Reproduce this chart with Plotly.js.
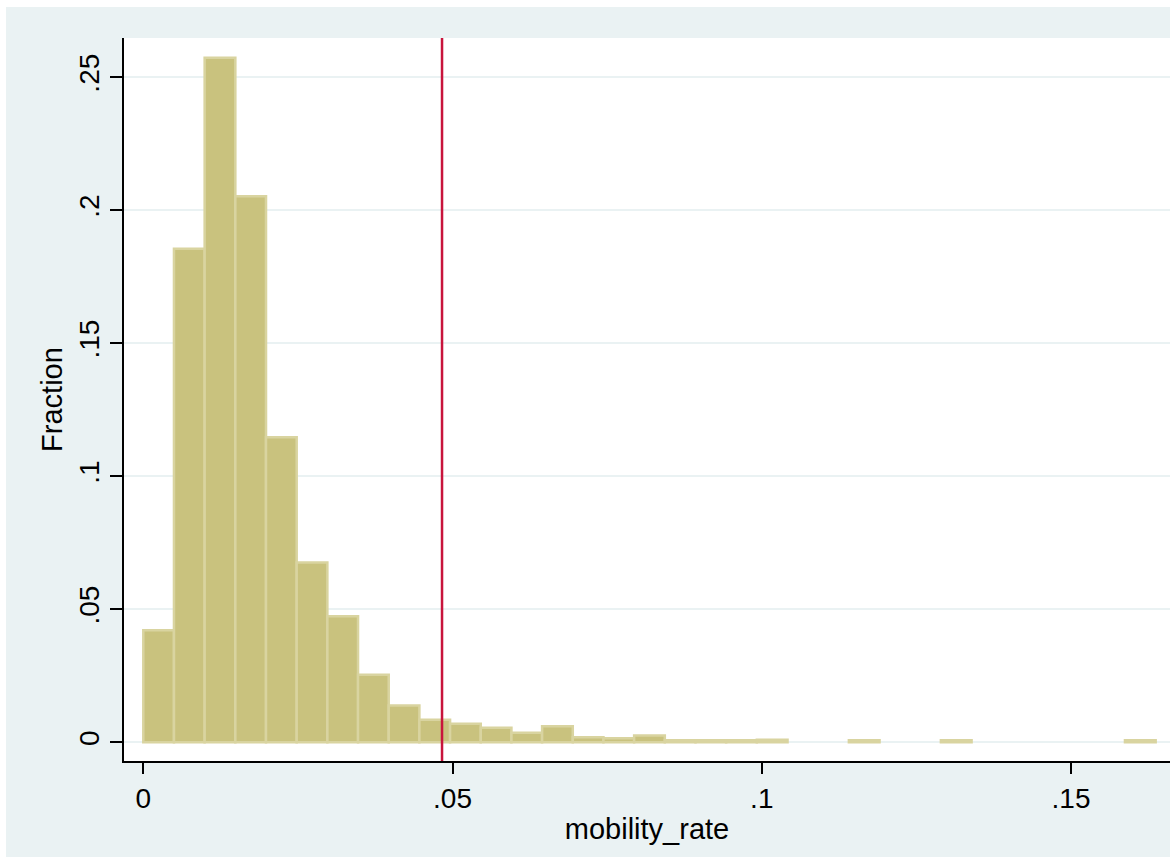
<!DOCTYPE html>
<html>
<head>
<meta charset="utf-8">
<script src="https://cdn.plot.ly/plotly-3.0.1.min.js"></script>
<style>
  html, body { margin: 0; padding: 0; background: #ffffff; }
  #chart { position: absolute; left: 6px; top: 7px; width: 1164px; height: 850px; }
</style>
</head>
<body>
<div id="chart"></div>
<script>
// Histogram of mobility_rate (Stata style), fraction per bin
const binStart = 0;
const binWidth = 0.00496;
const fractions = [
  0.0421, 0.1856, 0.2574, 0.2053, 0.1147, 0.0676, 0.0474, 0.0254, 0.0138, 0.0085,
  0.0070, 0.0055, 0.0036, 0.0060, 0.0019, 0.0015, 0.0026, 0.0008, 0.0008, 0.0008,
  0.0010, null, null, 0.0008, null, null, 0.0008, null, null, null,
  null, null, 0.0008
];
const refLineX = 0.0483;
const xTickVals = [0, 0.05, 0.1, 0.15];
const xTickText = ["0", ".05", ".1", ".15"];
const yTickVals = [0, 0.05, 0.1, 0.15, 0.2, 0.25];
const yTickText = ["0", ".05", ".1", ".15", ".2", ".25"];

const binCenters = fractions.map((_, i) => binStart + (i + 0.5) * binWidth);

const fontFam = '"Liberation Sans", Arial, Helvetica, sans-serif';

const trace = {
  type: 'bar',
  x: binCenters,
  y: fractions,
  width: binWidth,
  marker: {
    color: '#C9C27E',
    line: { color: '#D9D4A0', width: 2.5 }
  },
  hoverinfo: 'x+y'
};

const layout = {
  width: 1164,
  height: 850,
  paper_bgcolor: '#EAF2F3',
  plot_bgcolor: '#FFFFFF',
  margin: { l: 118, r: 0, t: 31, b: 96 },
  showlegend: false,
  bargap: 0,
  font: { family: fontFam, color: '#000000', size: 28 },
  xaxis: {
    range: [-0.00312, 0.1660],
    tickvals: xTickVals,
    ticktext: xTickText,
    ticks: 'outside',
    ticklen: 11,
    tickwidth: 2,
    tickcolor: '#000000',
    showline: true,
    linecolor: '#000000',
    linewidth: 2,
    showgrid: false,
    zeroline: false,
    tickfont: { family: fontFam, size: 28, color: '#000000' },
    title: { text: 'mobility_rate', font: { family: fontFam, size: 29, color: '#000000' }, standoff: 6 }
  },
  yaxis: {
    range: [-0.00703, 0.2648],
    tickvals: yTickVals,
    ticktext: yTickText,
    tickangle: -90,
    ticks: 'outside',
    ticklen: 12,
    tickwidth: 2,
    tickcolor: '#000000',
    showline: true,
    linecolor: '#000000',
    linewidth: 2,
    showgrid: true,
    gridcolor: '#EAF2F3',
    gridwidth: 2,
    zeroline: false,
    tickfont: { family: fontFam, size: 28, color: '#000000' },
    title: { text: 'Fraction', font: { family: fontFam, size: 29, color: '#000000' }, standoff: 3 }
  },
  shapes: [{
    type: 'line',
    xref: 'x', yref: 'paper',
    x0: refLineX, x1: refLineX, y0: 0, y1: 1,
    line: { color: '#C8143C', width: 2.5 },
    layer: 'above'
  }]
};

Plotly.newPlot('chart', [trace], layout, { displayModeBar: false, staticPlot: true });
</script>
</body>
</html>
